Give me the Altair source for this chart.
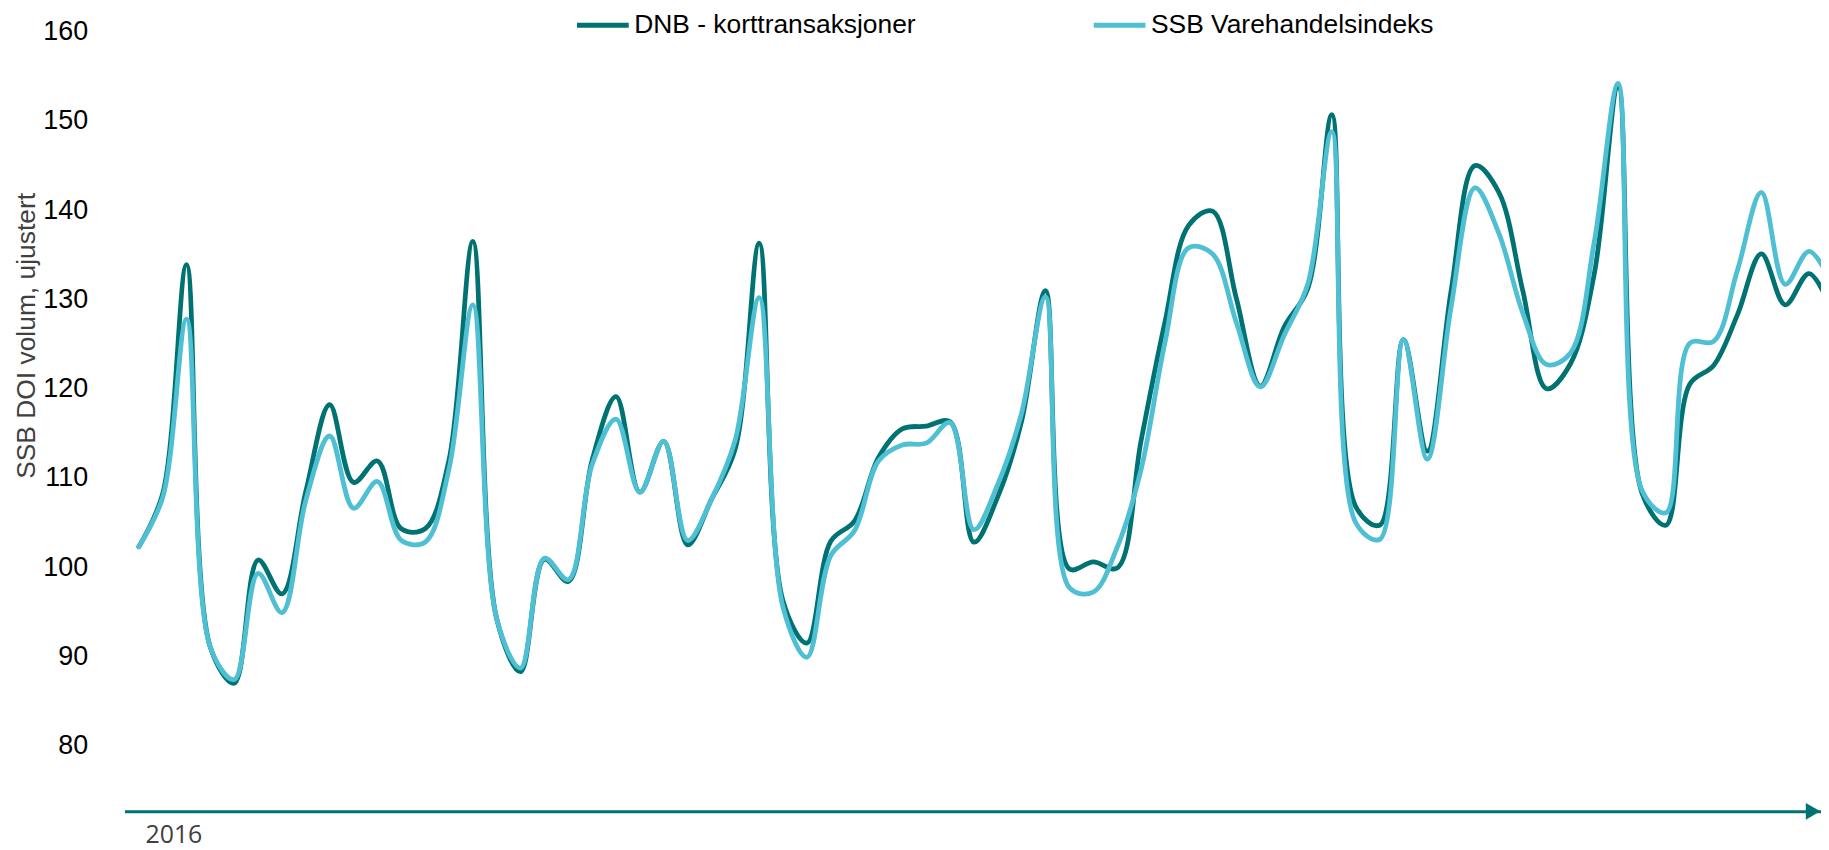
import altair as alt
import pandas as pd

# Monthly index values (index 0 = first month shown)
series_names = ["DNB - korttransaksjoner", "SSB Varehandelsindeks"]
colors = ["#007272", "#4FBFD3"]

dnb = [102.3, 108.2, 133.9, 91.0, 87.0, 100.8, 97.0, 108.5, 118.2, 109.5, 111.9, 104.3,
       104.3, 112.0, 136.5, 94.2, 88.3, 100.9, 98.4, 112.0, 119.1, 108.4, 114.1, 102.5,
       107.6, 113.3, 136.3, 96.2, 91.5, 102.9, 105.2, 112.3, 115.5, 115.8, 116.3, 102.8,
       107.9, 116.4, 131.0, 99.8, 100.6, 99.9, 114.1, 127.4, 138.3, 139.9, 130.1, 120.3,
       126.9, 131.3, 150.7, 106.8, 104.7, 125.5, 113.0, 131.0, 145.0, 142.0, 131.0, 120.0,
       122.8, 132.9, 153.8, 108.3, 104.7, 120.5, 122.6, 128.3, 135.1, 129.4, 132.9, 128.5]

ssb = [102.3, 107.8, 127.8, 91.0, 87.4, 99.3, 94.9, 107.5, 114.7, 106.6, 109.6, 103.0,
       102.8, 111.0, 129.4, 94.2, 88.7, 101.0, 98.6, 111.5, 116.6, 108.4, 114.1, 103.0,
       107.6, 114.3, 130.2, 95.5, 89.9, 101.3, 104.1, 111.9, 113.7, 113.9, 116.2, 104.2,
       109.3, 117.3, 130.3, 97.7, 97.2, 102.2, 110.9, 125.1, 135.8, 135.1, 127.4, 120.2,
       126.0, 131.8, 148.8, 105.0, 103.1, 125.5, 112.1, 129.2, 142.5, 137.4, 128.5, 122.7,
       124.0, 136.5, 154.2, 108.6, 106.1, 125.1, 125.3, 133.3, 142.0, 131.7, 135.4, 131.5]

y_ticks = [80, 90, 100, 110, 120, 130, 140, 150, 160]
year_label = "2016"
year_label_pos = [1.45]
x_domain = [-0.6, 70.5]
y_domain = [72.64, 160]

rows = []
for i, (a, b) in enumerate(zip(dnb, ssb)):
    rows.append({"t": i, "serie": series_names[0], "v": a})
    rows.append({"t": i, "serie": series_names[1], "v": b})
df = pd.DataFrame(rows)

x_scale = alt.Scale(domain=x_domain, nice=False, zero=False)
y_scale = alt.Scale(domain=y_domain, nice=False, zero=False)

lines = alt.Chart(df).mark_line(
    interpolate="catmull-rom", strokeWidth=4.8, clip=True,
    strokeCap="round", strokeJoin="round"
).encode(
    x=alt.X("t:Q", scale=x_scale, axis=alt.Axis(
        values=year_label_pos, labelExpr=f"'{year_label}'", ticks=False, grid=False,
        domain=True, domainColor="#007272", domainWidth=3,
        labelFont="Open Sans", labelFontSize=25, labelColor="#404040",
        labelPadding=11, title=None)),
    y=alt.Y("v:Q", scale=y_scale, axis=alt.Axis(
        values=y_ticks, ticks=False, grid=False, domain=False,
        labelFont="Liberation Sans", labelFontSize=27, labelColor="#000000",
        labelPadding=37, title="SSB DOI volum, ujustert",
        titleFont="Liberation Sans", titleFontSize=26.5, titleFontWeight="normal",
        titleColor="#404040", titleAngle=270, titleAlign="center",
        titleBaseline="alphabetic", titleX=-90, titleY=305)),
    color=alt.Color("serie:N", scale=alt.Scale(domain=series_names, range=colors),
                    legend=alt.Legend(
                        title=None, orient="none", legendX=452, legendY=-35,
                        direction="horizontal", symbolType="stroke", symbolSize=2700,
                        symbolStrokeWidth=5, labelFont="Liberation Sans",
                        labelFontSize=26.5, labelColor="#000000", labelLimit=600,
                        columnPadding=168, labelOffset=3, padding=0)),
)

arrow_df = pd.DataFrame({"t": [x_domain[1]], "v": [y_domain[0]]})
arrow = alt.Chart(arrow_df).mark_point(
    shape="triangle-right", filled=True, size=280, color="#007272", opacity=1, xOffset=-8
).encode(x=alt.X("t:Q", scale=x_scale), y=alt.Y("v:Q", scale=y_scale))

chart = alt.layer(lines, arrow).properties(
    width=1704, height=783,
    padding={"left": 117, "top": 22, "right": 0, "bottom": 37},
    autosize=alt.AutoSizeParams(type="none"),
).configure_view(stroke=None)

chart.save("out.html", embed_options={"renderer": "svg", "actions": False})
